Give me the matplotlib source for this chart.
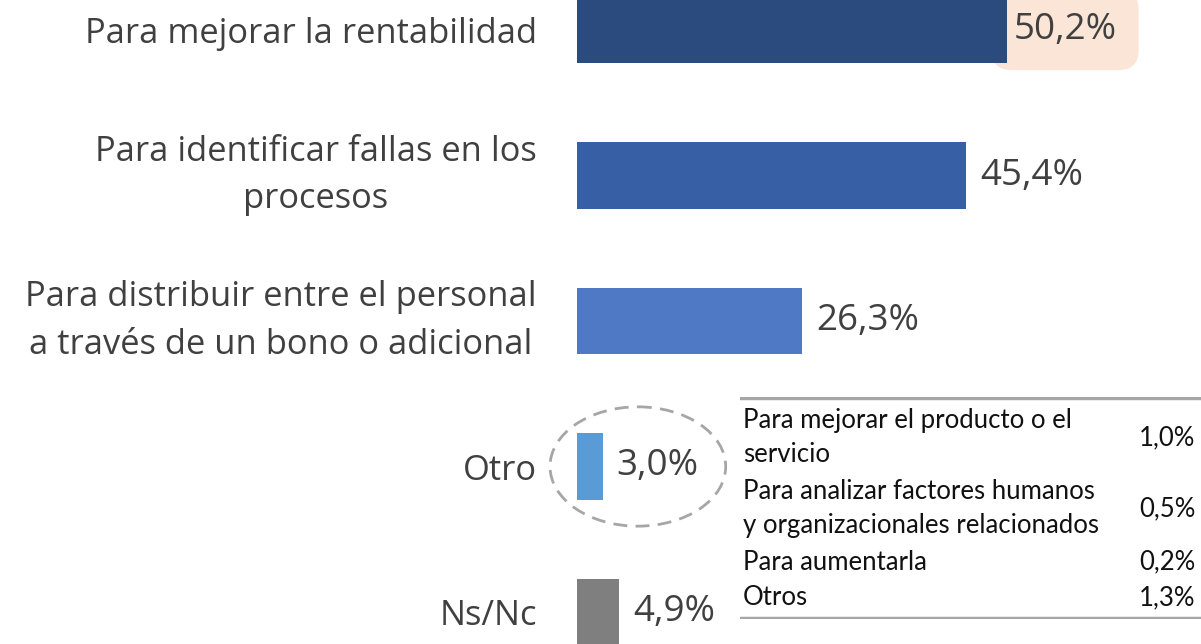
import matplotlib.pyplot as plt
from matplotlib.patches import Ellipse

categories = ['Para mejorar la rentabilidad',
              'Para identificar fallas en los\nprocesos',
              'Para distribuir entre el personal\na través de un bono o adicional',
              'Otro',
              'Ns/Nc']
values = [50.2, 45.4, 26.3, 3.0, 4.9]
value_labels = ['50,2%', '45,4%', '26,3%', '3,0%', '4,9%']
bar_colors = ['#2B4A7E', '#365FA5', '#5079C5', '#5B9BD5', '#7F7F7F']

detail_labels = ['Para mejorar el producto o el\nservicio',
                 'Para analizar factores humanos\ny organizacionales relacionados',
                 'Para aumentarla',
                 'Otros']
detail_values = ['1,0%', '0,5%', '0,2%', '1,3%']

W, H = 1201, 644
fig = plt.figure(figsize=(W / 100, H / 100), dpi=100)
fig.patch.set_facecolor('white')

# main bars: axes starts where the bars start
ax = fig.add_axes([577 / W, 0, 1 - 577 / W, 1])
px_per_pct = 8.57
ax.set_xlim(0, (W - 577) / px_per_pct)
step = 145.5
ax.set_ylim((H - 30) / step, -30 / step)

ax.barh(range(len(values)), values, height=0.455, color=bar_colors, zorder=2)

ax.set_yticks(range(len(categories)), labels=categories)
ax.tick_params(axis='y', length=0, pad=29, labelsize=24.8, labelcolor='#404040')
for lbl in ax.get_yticklabels():
    lbl.set_family('Open Sans')
    lbl.set_multialignment('center')
    lbl.set_linespacing(1.5)
    if '\n' in lbl.get_text():
        lbl.set_verticalalignment('center')
ax.set_xticks([])
for s in ax.spines.values():
    s.set_visible(False)

for i, (v, t) in enumerate(zip(values, value_labels)):
    if i == 0:
        ax.annotate(t, (v, i), xytext=(4.5, 0), textcoords='offset points',
                    ha='left', va='center', fontsize=26.5, color='#404040',
                    family='Open Sans', zorder=1,
                    bbox=dict(boxstyle='round,pad=0.6,rounding_size=0.55',
                              fc='#FBE5D6', ec='none'))
    else:
        ax.annotate(t, (v, i), xytext=(10, 0), textcoords='offset points',
                    ha='left', va='center', fontsize=26.5, color='#404040',
                    family='Open Sans', zorder=3)

# dashed ellipse around "Otro"
ax.add_patch(Ellipse((values[3] + 4.1, 3), width=20.5, height=0.82,
                     fill=False, ec='#A6A6A6', lw=2, ls=(0, (5, 3)),
                     zorder=3, clip_on=False))

# detail table for "Otro"
tx = fig.add_axes([740 / W, (H - 619) / H, (W - 740) / W, 222 / H])
tx.set_xlim(0, 1)
tx.set_ylim(222, 0)
tx.axis('off')
tx.axhline(1, color='#A6A6A6', lw=2.5)
tx.axhline(221, color='#A6A6A6', lw=2.5)

line_h = 35.5
first = 23
n = 0
for lab, val in zip(detail_labels, detail_values):
    k = lab.count('\n') + 1
    yc = first + (n + (k - 1) / 2) * line_h
    tx.text(0.006, yc, lab, ha='left', va='center', fontsize=18.5,
            family='Lato', color='#111111', linespacing=1.45)
    tx.text(0.988, yc, val, ha='right', va='center', fontsize=18.5,
            family='Lato', color='#111111')
    n += k

fig.savefig('out.png', dpi=100)
